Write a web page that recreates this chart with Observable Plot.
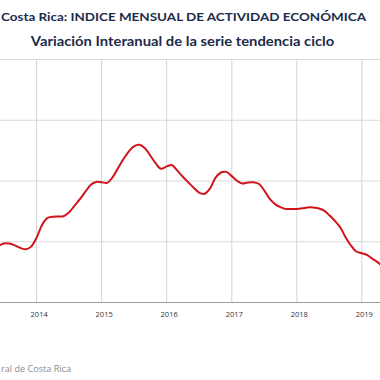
<!DOCTYPE html>
<html><head><meta charset="utf-8">
<script src="https://cdn.jsdelivr.net/npm/d3@7"></script>
<script src="https://cdn.jsdelivr.net/npm/@observablehq/plot@0.6"></script>
<style>
html,body{margin:0;padding:0;background:#fff;overflow:hidden;}
#wrap{position:relative;width:380px;height:380px;overflow:hidden;}
#head{position:absolute;left:0;top:0;}
#chart{position:absolute;left:0;top:50px;}
#cap{position:absolute;left:0;top:355px;}
</style></head>
<body>
<div id="wrap">
<svg id="head" width="380" height="50">
  <text x="183.5" y="20.7" text-anchor="middle" font-family="Lato, 'Open Sans', sans-serif" font-weight="bold" font-size="12" fill="#1c2b4b" textLength="365" lengthAdjust="spacingAndGlyphs">Costa Rica: INDICE MENSUAL DE ACTIVIDAD ECONÓMICA</text>
  <text x="182.5" y="45.7" text-anchor="middle" font-family="Lato, 'Open Sans', sans-serif" font-weight="bold" font-size="12.5" fill="#1c2b4b" textLength="303.5" lengthAdjust="spacingAndGlyphs">Variación Interanual de la serie tendencia ciclo</text>
</svg>
<div id="chart"></div>
<svg id="cap" width="380" height="25">
  <text x="1" y="16.7" text-anchor="start" font-family="'Open Sans', sans-serif" font-size="9.5" fill="#8a8a8a" textLength="70" lengthAdjust="spacingAndGlyphs">ral de Costa Rica</text>
</svg>
</div>
<script>
const months = ["2013-06","2013-07","2013-08","2013-09","2013-10","2013-11","2013-12",
"2014-01","2014-02","2014-03","2014-04","2014-05","2014-06","2014-07","2014-08","2014-09","2014-10","2014-11","2014-12",
"2015-01","2015-02","2015-03","2015-04","2015-05","2015-06","2015-07","2015-08","2015-09","2015-10","2015-11","2015-12",
"2016-01","2016-02","2016-03","2016-04","2016-05","2016-06","2016-07","2016-08","2016-09","2016-10","2016-11","2016-12",
"2017-01","2017-02","2017-03","2017-04","2017-05","2017-06","2017-07","2017-08","2017-09","2017-10","2017-11","2017-12",
"2018-01","2018-02","2018-03","2018-04","2018-05","2018-06","2018-07","2018-08","2018-09","2018-10","2018-11","2018-12",
"2019-01","2019-02","2019-03","2019-04","2019-05"];
const values = [2.93,2.97,2.97,2.94,2.90,2.875,2.92,
3.07,3.28,3.39,3.41,3.415,3.42,3.48,3.59,3.70,3.82,3.94,3.985,
3.98,3.97,4.05,4.20,4.35,4.48,4.57,4.595,4.54,4.42,4.29,4.20,
4.24,4.26,4.17,4.07,3.98,3.89,3.81,3.79,3.88,4.05,4.14,4.15,
4.08,4.00,3.96,3.975,3.98,3.955,3.85,3.71,3.62,3.57,3.54,3.54,
3.54,3.55,3.565,3.565,3.55,3.515,3.44,3.35,3.24,3.08,2.94,2.84,
2.81,2.78,2.72,2.66,2.58];
const yearTicks = ["2014","2015","2016","2017","2018","2019"];
const yGrid = [3,4,5,6];

const parseM = d3.utcParse("%Y-%m");
const data = months.map((m,i)=>({date: parseM(m), value: values[i]}));
const xt = yearTicks.map(y => d3.utcParse("%Y")(y));

const chart = Plot.plot({
  width: 380, height: 330,
  marginTop: 9, marginBottom: 78, marginLeft: 0, marginRight: 0,
  style: {fontFamily: "'Open Sans', sans-serif", background: "transparent"},
  x: {type: "utc", domain: [new Date(Date.UTC(2013,5,12)), new Date(Date.UTC(2019,3,16))]},
  y: {domain: [2,6], axis: null},
  marks: [
    Plot.gridY(yGrid, {stroke: "#d9d9d9", strokeOpacity: 1, strokeWidth: 1}),
    Plot.gridX(xt, {stroke: "#d4d4d4", strokeOpacity: 1, strokeWidth: 1}),
    Plot.ruleY([2], {stroke: "#9a9a9a", strokeWidth: 1}),
    Plot.axisX(xt, {tickSize: 0, tickPadding: 9, fontSize: 7.5, fill: "#333", dx: 2.5, tickFormat: d3.utcFormat("%Y"), label: null}),
    Plot.line(data, {x: "date", y: "value", stroke: "#d0141c", strokeWidth: 2, curve: "catmull-rom", clip: true})
  ]
});
document.getElementById("chart").appendChild(chart);
</script>
</body></html>
